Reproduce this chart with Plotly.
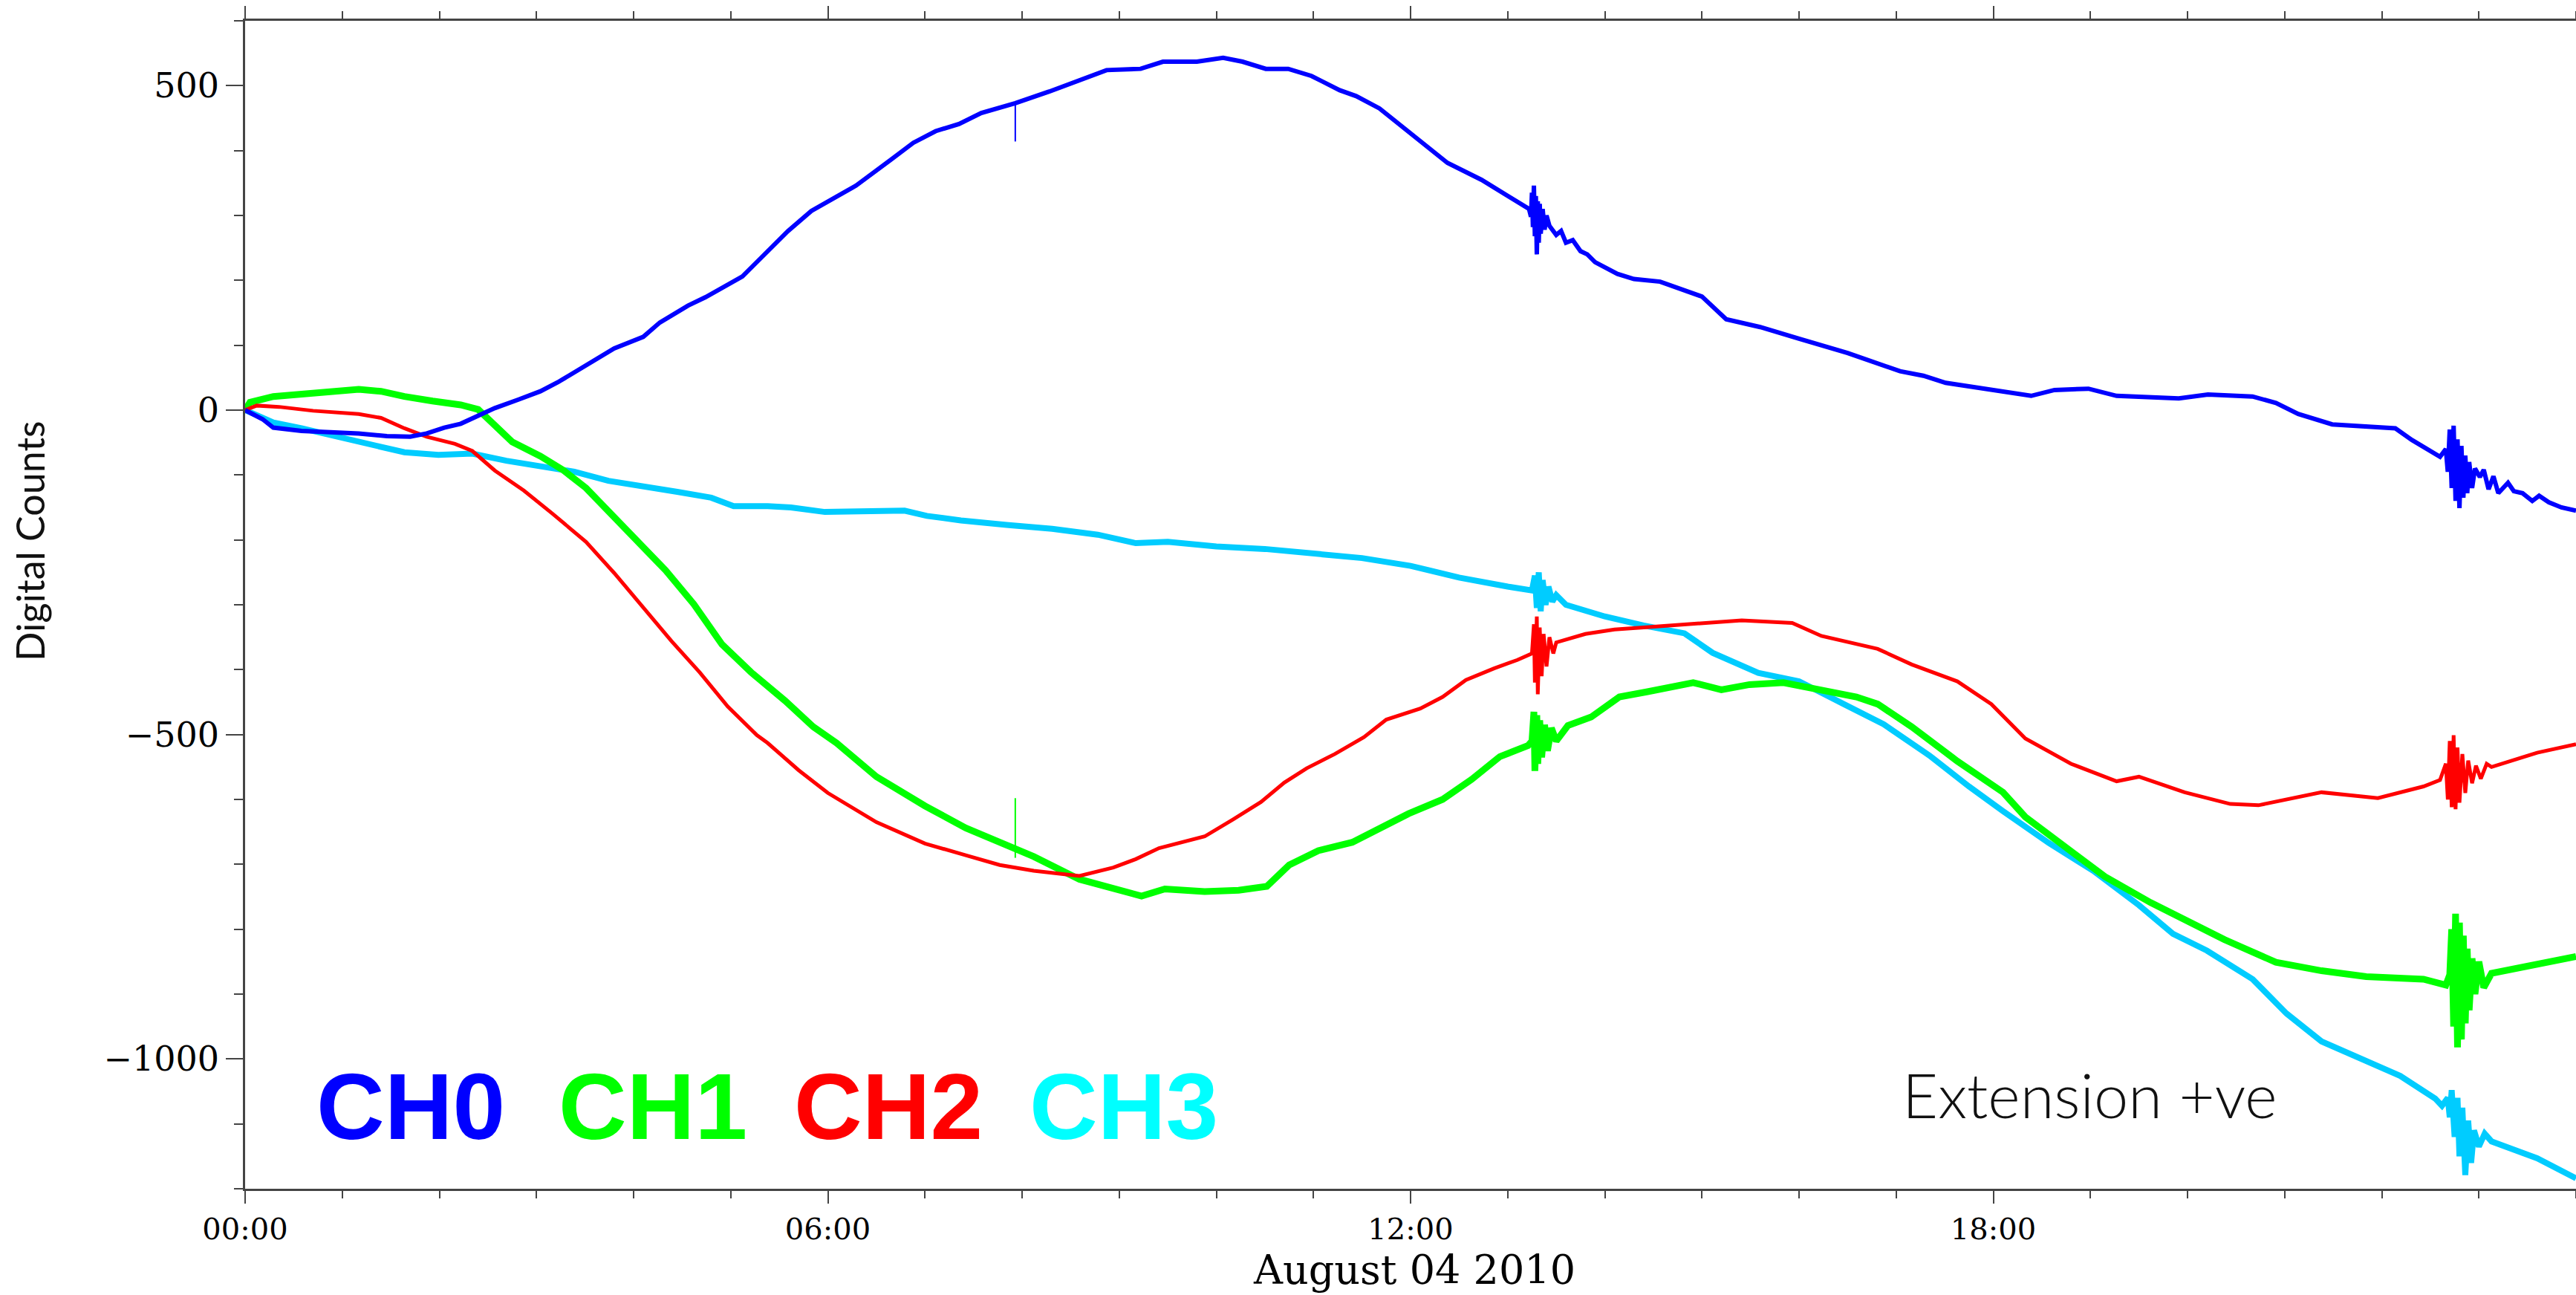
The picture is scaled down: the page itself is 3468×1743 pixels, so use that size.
import plotly.graph_objects as go

# Strainmeter channels, August 04 2010 (hours since 00:00, digital counts)
ch0_t = [0.00, 0.18, 0.29, 0.58, 0.88, 1.17, 1.46, 1.70, 1.87, 2.05,
         2.22, 2.40, 2.57, 2.81, 3.04, 3.22, 3.51, 3.80, 4.10, 4.27,
         4.56, 4.74, 5.12, 5.36, 5.59, 5.83, 6.29, 6.65, 6.88, 7.11,
         7.35, 7.58, 7.93, 8.28, 8.63, 8.87, 9.22, 9.45, 9.80, 10.07,
         10.27, 10.51, 10.74, 10.98, 11.27, 11.44, 11.68, 11.91, 12.15, 12.38,
         12.73, 13.02, 13.20, 13.22, 13.24, 13.25, 13.26, 13.27, 13.28, 13.29,
         13.30, 13.31, 13.32, 13.33, 13.34, 13.36, 13.38, 13.40, 13.43, 13.50,
         13.55, 13.60, 13.67, 13.75, 13.82, 13.90, 14.13, 14.30, 14.57, 15.00,
         15.25, 15.60, 16.00, 16.50, 17.04, 17.28, 17.51, 18.04, 18.39, 18.63,
         18.98, 19.27, 19.91, 20.21, 20.67, 20.91, 21.14, 21.49, 22.14, 22.31,
         22.60, 22.66, 22.68, 22.70, 22.72, 22.74, 22.76, 22.78, 22.80, 22.82,
         22.84, 22.86, 22.88, 22.90, 22.93, 22.96, 23.01, 23.05, 23.10, 23.15,
         23.20, 23.30, 23.36, 23.45, 23.55, 23.62, 23.72, 23.85, 24.00]
ch0_v = [0, -14, -27, -32, -34, -36, -40, -41, -36, -27,
         -21, -8, 3, 16, 29, 43, 69, 95, 113, 135,
         161, 174, 206, 241, 276, 307, 346, 386, 412, 430,
         441, 458, 473, 491, 511, 524, 526, 537, 537, 543,
         537, 526, 526, 515, 493, 484, 465, 438, 408, 381,
         355, 329, 312, 310, 298, 335, 282, 346, 268, 330,
         240, 322, 258, 318, 272, 310, 278, 300, 284, 270,
         276, 258, 262, 245, 240, 228, 210, 202, 198, 175,
         140, 128, 110, 88, 60, 53, 42, 29, 22, 31,
         33, 22, 18, 24, 21, 11, -6, -22, -28, -46,
         -72, -60, -95, -30, -120, -24, -140, -45, -151, -55,
         -135, -70, -128, -80, -120, -90, -103, -92, -122, -102,
         -128, -112, -125, -128, -140, -132, -142, -150, -155]

ch1_t = [0.00, 0.05, 0.29, 0.58, 0.88, 1.17, 1.40, 1.64, 1.93, 2.22,
         2.40, 2.57, 2.75, 3.04, 3.28, 3.51, 3.74, 4.04, 4.33, 4.62,
         4.91, 5.21, 5.56, 5.85, 6.09, 6.50, 7.00, 7.42, 7.77, 8.12,
         8.59, 8.94, 9.23, 9.47, 9.88, 10.23, 10.52, 10.75, 11.05, 11.40,
         11.63, 11.98, 12.33, 12.63, 12.92, 13.21, 13.25, 13.27, 13.28, 13.30,
         13.31, 13.33, 13.35, 13.38, 13.41, 13.45, 13.50, 13.62, 13.86, 14.15,
         14.44, 14.91, 15.20, 15.49, 15.84, 16.20, 16.59, 16.81, 17.16, 17.63,
         18.10, 18.33, 18.68, 19.15, 19.62, 20.09, 20.38, 20.91, 21.38, 21.84,
         22.43, 22.66, 22.70, 22.72, 22.74, 22.76, 22.78, 22.80, 22.82, 22.84,
         22.86, 22.88, 22.90, 22.93, 22.96, 23.00, 23.05, 23.13, 23.60, 24.00]
ch1_v = [0, 12, 21, 25, 27, 32, 29, 21, 14, 8,
         1, -23, -49, -71, -93, -120, -155, -203, -247, -299,
         -361, -404, -448, -488, -513, -565, -610, -644, -666, -688,
         -723, -736, -749, -738, -742, -740, -734, -701, -679, -666,
         -648, -622, -600, -569, -534, -517, -510, -465, -556, -470,
         -545, -478, -535, -485, -525, -490, -510, -486, -473, -442,
         -434, -420, -431, -423, -420, -431, -442, -453, -488, -541,
         -589, -627, -667, -719, -759, -794, -816, -851, -864, -873,
         -877, -886, -870, -800, -950, -776, -982, -790, -970, -810,
         -945, -830, -925, -845, -900, -850, -890, -868, -855, -842]

ch2_t = [0.00, 0.12, 0.35, 0.70, 1.17, 1.40, 1.64, 1.87, 2.16, 2.34,
         2.57, 2.87, 3.16, 3.51, 3.80, 4.10, 4.39, 4.68, 4.97, 5.27,
         5.38, 5.70, 6.00, 6.50, 7.00, 7.42, 7.77, 8.12, 8.59, 8.94,
         9.17, 9.41, 9.88, 10.17, 10.46, 10.70, 10.93, 11.22, 11.52, 11.75,
         12.10, 12.33, 12.57, 12.86, 13.10, 13.25, 13.27, 13.28, 13.30, 13.31,
         13.33, 13.35, 13.37, 13.40, 13.43, 13.47, 13.50, 13.80, 14.10, 14.40,
         14.82, 15.41, 15.93, 16.23, 16.81, 17.16, 17.63, 17.98, 18.33, 18.80,
         19.27, 19.50, 19.97, 20.44, 20.73, 21.38, 21.96, 22.43, 22.60, 22.66,
         22.68, 22.70, 22.72, 22.74, 22.76, 22.78, 22.80, 22.83, 22.86, 22.89,
         22.93, 22.97, 23.02, 23.08, 23.13, 23.60, 24.00]
ch2_v = [0, 7, 5, -1, -6, -12, -28, -41, -52, -63,
         -93, -124, -159, -203, -251, -304, -356, -404, -457, -501,
         -513, -555, -590, -635, -668, -686, -701, -710, -718, -705,
         -692, -675, -657, -631, -604, -574, -552, -530, -504, -477,
         -460, -442, -416, -398, -385, -375, -330, -420, -318, -438,
         -335, -410, -345, -395, -350, -375, -358, -345, -338, -335,
         -330, -324, -328, -348, -368, -392, -418, -453, -506, -545,
         -572, -565, -589, -607, -609, -589, -598, -580, -570, -545,
         -600, -510, -612, -501, -615, -520, -605, -530, -590, -540,
         -575, -548, -568, -545, -550, -528, -515]

ch3_t = [0.00, 0.29, 0.58, 0.94, 1.29, 1.64, 1.99, 2.34, 2.69, 3.04,
         3.39, 3.74, 4.10, 4.45, 4.80, 5.03, 5.38, 5.62, 5.97, 6.44,
         6.79, 7.02, 7.37, 7.84, 8.31, 8.78, 9.17, 9.50, 10.00, 10.50,
         11.00, 11.50, 12.00, 12.50, 13.00, 13.25, 13.28, 13.30, 13.32, 13.34,
         13.36, 13.39, 13.42, 13.46, 13.50, 13.60, 14.00, 14.40, 14.82, 15.11,
         15.58, 16.00, 16.46, 16.87, 17.34, 17.75, 18.10, 18.57, 19.03, 19.50,
         19.85, 20.20, 20.67, 21.02, 21.38, 21.84, 22.19, 22.55, 22.62, 22.68,
         22.70, 22.72, 22.75, 22.78, 22.80, 22.83, 22.86, 22.89, 22.92, 22.95,
         23.00, 23.06, 23.13, 23.60, 24.00]
ch3_v = [0, -19, -28, -41, -52, -65, -69, -67, -78, -87,
         -95, -109, -117, -126, -135, -148, -148, -150, -157, -157,
         -155, -163, -170, -177, -183, -192, -205, -203, -210, -214,
         -222, -228, -240, -258, -272, -278, -255, -305, -250, -310,
         -262, -300, -272, -295, -285, -300, -318, -332, -344, -374,
         -405, -418, -453, -484, -532, -580, -618, -667, -710, -763,
         -807, -833, -877, -930, -973, -1004, -1026, -1061, -1072, -1060,
         -1090, -1048, -1120, -1060, -1150, -1075, -1179, -1095, -1160, -1110,
         -1135, -1115, -1127, -1153, -1184]

# Single-sample glitches near 07:56
ch0_glitch_t = [7.93, 7.93]
ch0_glitch_v = [473, 414]
ch1_glitch_t = [7.93, 7.93]
ch1_glitch_v = [-690, -598]

channel_names = ["CH0", "CH1", "CH2", "CH3"]
x_tick_vals = [0, 6, 12, 18]
x_tick_text = ["00:00", "06:00", "12:00", "18:00"]
y_tick_vals = [-1000, -500, 0, 500]
y_tick_text = ["\u22121000", "\u2212500", "0", "500"]

BLUE, GREEN, RED, CYAN_LINE, CYAN_TEXT = "#0000FF", "#00FF00", "#FF0000", "#00CCFF", "#00FFFF"
AXIS = "#444444"

W, H = 3468, 1743
ML, MR, MT, MB = 330, 0, 28, 143
PW, PH = W - ML - MR, H - MT - MB


def px(x):
    return (x - ML) / PW


def py(y):
    return (H - MB - y) / PH


fig = go.Figure()
# drawn back to front: CH3, CH1, CH2, CH0
for t, v, col, wid in [(ch3_t, ch3_v, CYAN_LINE, 8),
                       (ch1_t, ch1_v, GREEN, 9),
                       (ch2_t, ch2_v, RED, 5),
                       (ch0_t, ch0_v, BLUE, 6)]:
    fig.add_trace(go.Scatter(x=t, y=v, mode="lines",
                             line=dict(color=col, width=wid),
                             showlegend=False, hoverinfo="skip"))
for t, v, col in [(ch1_glitch_t, ch1_glitch_v, GREEN), (ch0_glitch_t, ch0_glitch_v, BLUE)]:
    fig.add_trace(go.Scatter(x=t, y=v, mode="lines", line=dict(color=col, width=2),
                             showlegend=False, hoverinfo="skip"))

tick_font_x = dict(family="DejaVu Serif", size=40, color="black")
tick_font_y = dict(family="DejaVu Serif", size=46, color="black")

fig.update_xaxes(range=[0, 24], tickmode="array", tickvals=x_tick_vals, ticktext=x_tick_text,
                 ticks="outside", ticklen=17, tickwidth=2, tickcolor=AXIS,
                 showline=True, linecolor=AXIS, linewidth=2.5, mirror="allticks",
                 showgrid=False, zeroline=False, tickfont=tick_font_x,
                 minor=dict(tick0=0, dtick=1, ticks="outside", ticklen=10,
                            tickwidth=2, tickcolor=AXIS, showgrid=False))
fig.update_yaxes(range=[-1200, 600], tickmode="array", tickvals=y_tick_vals, ticktext=y_tick_text,
                 ticks="outside", ticklen=23, tickwidth=2, tickcolor=AXIS,
                 showline=True, linecolor=AXIS, linewidth=2.5, mirror=False,
                 showgrid=False, zeroline=False, tickfont=tick_font_y,
                 minor=dict(tick0=0, dtick=100, ticks="outside", ticklen=12,
                            tickwidth=2, tickcolor=AXIS, showgrid=False))

annotations = []
# channel key
for name, col, cx in zip(channel_names, [BLUE, GREEN, RED, CYAN_TEXT], [553, 879, 1196, 1513]):
    annotations.append(dict(text="<b>%s</b>" % name, x=px(cx), y=py(1489), xref="paper", yref="paper",
                            xanchor="center", yanchor="middle", showarrow=False,
                            font=dict(family="Liberation Sans", size=127, color=col)))
annotations.append(dict(text="Extension +ve", x=px(2559), y=py(1473), xref="paper", yref="paper",
                        xanchor="left", yanchor="middle", showarrow=False,
                        font=dict(family="Lato Light, Lato", size=83, color="#111111", weight=300)))
annotations.append(dict(text="Digital Counts", x=px(40), y=py(728), xref="paper", yref="paper",
                        xanchor="center", yanchor="middle", textangle=-90, showarrow=False,
                        font=dict(family="Lato", size=52, color="#111111")))
annotations.append(dict(text="August 04 2010", x=px(1904), y=py(1709), xref="paper", yref="paper",
                        xanchor="center", yanchor="middle", showarrow=False,
                        font=dict(family="DejaVu Serif", size=54, color="black")))

fig.update_layout(width=W, height=H, autosize=False,
                  margin=dict(l=ML, r=MR, t=MT, b=MB, pad=0),
                  paper_bgcolor="white", plot_bgcolor="white",
                  annotations=annotations, showlegend=False)

fig.write_html("out.html", config={"displayModeBar": False})
